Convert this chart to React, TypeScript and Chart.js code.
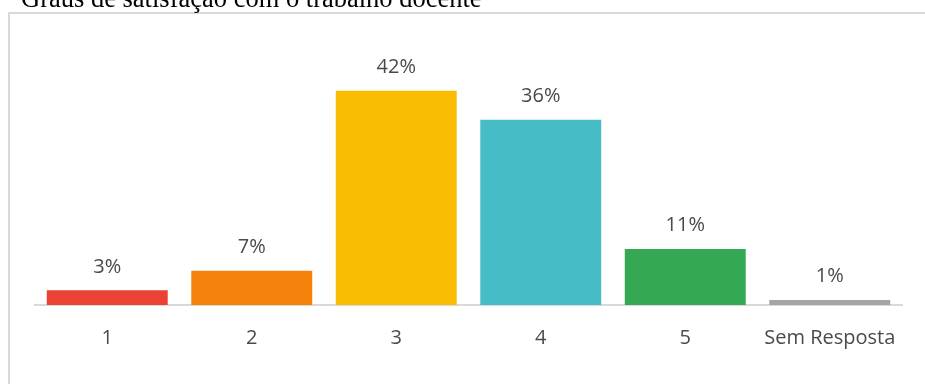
import React, { useEffect, useRef } from "react";
import { Chart, registerables } from "chart.js";

Chart.register(...registerables);

const TITLE = "Graus de satisfação com o trabalho docente";
const categories = ["1", "2", "3", "4", "5", "Sem Resposta"];
const values = [2.9, 6.7, 42, 36.3, 11, 1];
const colors = ["#EA4335", "#F5800A", "#FBBC04", "#46BDC6", "#34A853", "#A5A5A5"];

const FONT = "'Open Sans', sans-serif";
const FONT_SIZE = 20;
const TEXT_COLOR = "#4a4a4a";

const valueLabels = {
  id: "valueLabels",
  afterDatasetsDraw(chart: any) {
    const ctx = chart.ctx;
    const meta = chart.getDatasetMeta(0);
    ctx.save();
    ctx.font = `${FONT_SIZE}px ${FONT}`;
    ctx.fillStyle = TEXT_COLOR;
    ctx.textAlign = "center";
    ctx.textBaseline = "alphabetic";
    meta.data.forEach((bar: any, i: number) => {
      const v = chart.data.datasets[0].data[i] as number;
      ctx.fillText(`${Math.round(v)}%`, bar.x, bar.y - 17.5);
    });
    ctx.restore();
  },
};

const frame = {
  id: "frame",
  beforeDraw(chart: any) {
    const ctx = chart.ctx;
    ctx.save();
    ctx.fillStyle = "#d9d9d9";
    ctx.fillRect(8, 12, chart.width - 8, 2);
    ctx.fillRect(8, 12, 2, chart.height - 12);
    ctx.restore();
  },
};

export default function App() {
  const ref = useRef<HTMLCanvasElement>(null);
  useEffect(() => {
    if (!ref.current) return;
    const chart = new Chart(ref.current, {
      type: "bar",
      data: {
        labels: categories,
        datasets: [
          {
            data: values,
            backgroundColor: colors,
            borderWidth: 0,
            categoryPercentage: 1,
            barPercentage: 0.837,
          },
        ],
      },
      options: {
        animation: false,
        responsive: false,
        devicePixelRatio: 1,
        layout: { padding: { left: 35, right: 23, top: 50, bottom: 0 } },
        plugins: { legend: { display: false }, title: { display: false }, tooltip: { enabled: false } },
        scales: {
          x: {
            grid: { display: false, drawTicks: false },
            border: { display: true, color: "#d9d9d9", width: 2 },
            ticks: { color: TEXT_COLOR, font: { family: FONT, size: FONT_SIZE }, padding: 21.5, maxRotation: 0 },
            afterFit: (s: any) => {
              s.height = 79;
            },
          },
          y: { display: false, min: 0, max: 50 },
        },
      },
      plugins: [frame, valueLabels],
    });
    return () => chart.destroy();
  }, []);

  return (
    <div
      style={{
        position: "fixed",
        left: 0,
        top: 0,
        width: 925,
        height: 384,
        overflow: "hidden",
        background: "#fff",
      }}
    >
      <canvas
        ref={ref}
        width={925}
        height={384}
        style={{ position: "absolute", left: 0, top: 0, width: 925, height: 384 }}
      />
      <div
        style={{
          position: "absolute",
          left: 21,
          top: -15,
          fontFamily: "'Liberation Serif', 'Times New Roman', serif",
          fontSize: 26.5,
          lineHeight: "26.5px",
          whiteSpace: "nowrap",
          color: "#000",
        }}
      >
        {TITLE}
      </div>
    </div>
  );
}
